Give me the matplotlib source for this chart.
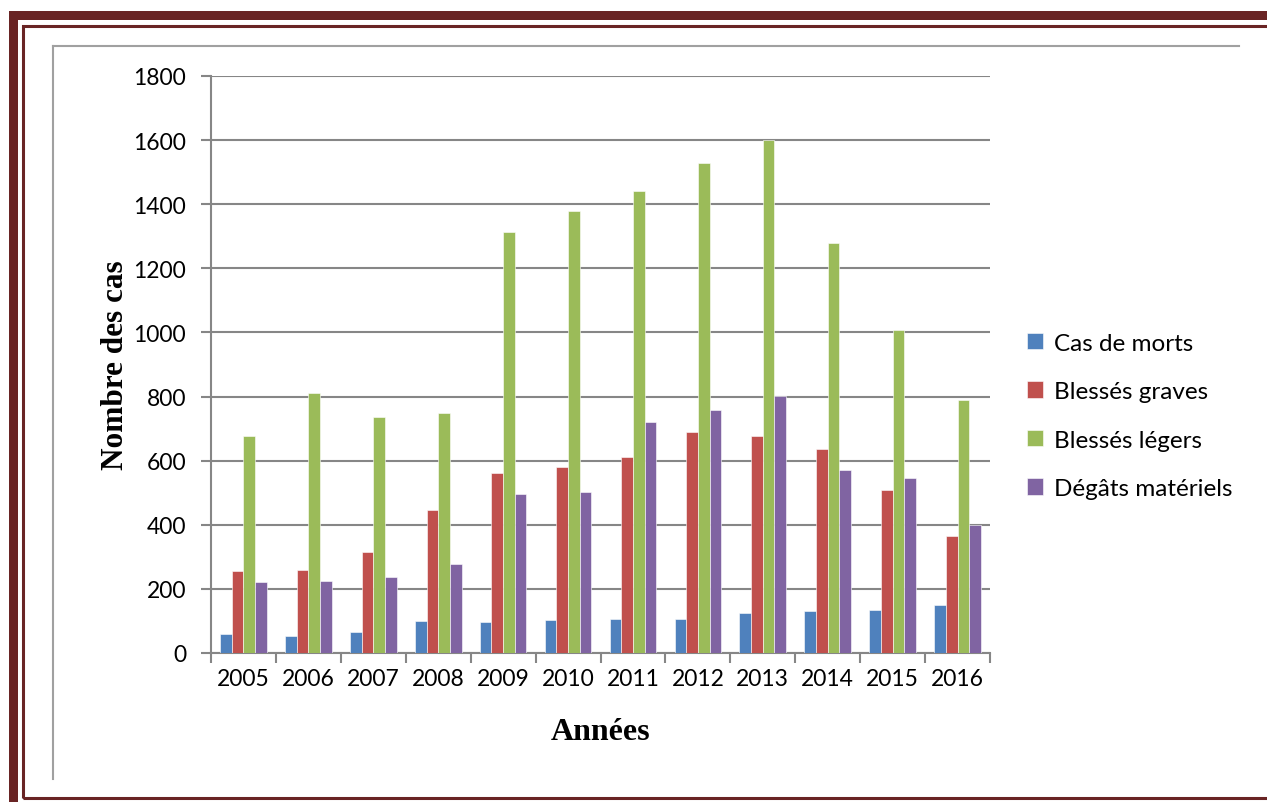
import numpy as np
import matplotlib
matplotlib.use('Agg')
import matplotlib.pyplot as plt
from matplotlib.patches import Rectangle
from matplotlib.lines import Line2D

# yearly counts per category
years = ['2005', '2006', '2007', '2008', '2009', '2010', '2011', '2012',
         '2013', '2014', '2015', '2016']
morts = [59, 53, 65, 100, 96, 102, 106, 106, 125, 131, 134, 150]
graves = [256, 259, 315, 446, 561, 580, 612, 690, 678, 635, 510, 366]
legers = [677, 811, 736, 749, 1313, 1380, 1441, 1528, 1600, 1279, 1007, 790]
materiels = [221, 225, 237, 278, 496, 502, 722, 757, 802, 570, 546, 400]

series = [('Cas de morts', morts, '#4F81BD'),
          ('Blessés graves', graves, '#C0504D'),
          ('Blessés légers', legers, '#9BBB59'),
          ('Dégâts matériels', materiels, '#8064A2')]

W, H = 1267, 803
fig = plt.figure(figsize=(W / 100, H / 100), dpi=100)

def fx(x):
    return x / W

def fy(y):
    return 1 - y / H

# page border (dark red, thick + thin)
red = '#692424'
fig.add_artist(Rectangle((fx(9), fy(21)), fx(W - 9), fy(12) - fy(21),
                         transform=fig.transFigure, color=red, lw=0))
fig.add_artist(Rectangle((fx(9), 0), fx(9), fy(12),
                         transform=fig.transFigure, color=red, lw=0))
fig.add_artist(Rectangle((fx(22.5), fy(798.5)), fx(W), fy(26.5) - fy(798.5),
                         transform=fig.transFigure, fill=False,
                         edgecolor=red, lw=2.2))

# chart area frame (top and left edges)
frame = '#A0A0A0'
fig.add_artist(Line2D([fx(53), fx(1239)], [fy(47), fy(47)],
                      transform=fig.transFigure, color=frame, lw=1.5))
fig.add_artist(Line2D([fx(53), fx(53)], [fy(47), fy(780)],
                      transform=fig.transFigure, color=frame, lw=1.5))

ax = fig.add_axes([fx(211), fy(654), fx(990) - fx(211), fy(77) - fy(654)])

x = np.arange(len(years))
bw = 0.18
for i, (name, vals, col) in enumerate(series):
    ax.bar(x + (i - 1.5) * bw, vals, bw, color=col, label=name,
           edgecolor='#FFFFFF', linewidth=0.4, zorder=3)

ax.set_xlim(-0.5, len(years) - 0.5)
ax.set_ylim(0, 1800)
ax.set_yticks(np.arange(0, 1801, 200))
ax.yaxis.grid(True, color='#868686', lw=1.5, zorder=0)
ax.set_xticks(x)
ax.set_xticklabels(years)
ax.set_xticks(np.arange(-0.5, len(years), 1), minor=True)
ax.tick_params(axis='x', which='major', length=0, pad=11)
ax.tick_params(axis='x', which='minor', length=7, width=1.5, color='#868686')
ax.tick_params(axis='y', length=7, width=1.5, color='#868686', pad=11)

for lab in ax.get_xticklabels() + ax.get_yticklabels():
    lab.set_fontfamily('Lato')
    lab.set_fontsize(16.5)

for s in ['top', 'right']:
    ax.spines[s].set_visible(False)
for s in ['left', 'bottom']:
    ax.spines[s].set_color('#868686')
    ax.spines[s].set_linewidth(1.5)

ax.set_ylabel('Nombre des cas', fontfamily='Liberation Serif',
              fontweight='bold', fontsize=22.5, labelpad=2)
ax.set_xlabel('Années', fontfamily='Liberation Serif',
              fontweight='bold', fontsize=23, labelpad=20)

ax.legend(loc='center left', bbox_to_anchor=(1.02, 0.411), frameon=False,
          prop={'family': 'Lato', 'size': 17.5}, handlelength=0.65,
          handleheight=0.65, handletextpad=0.45, labelspacing=1.13)

fig.savefig('out.png', dpi=100)
